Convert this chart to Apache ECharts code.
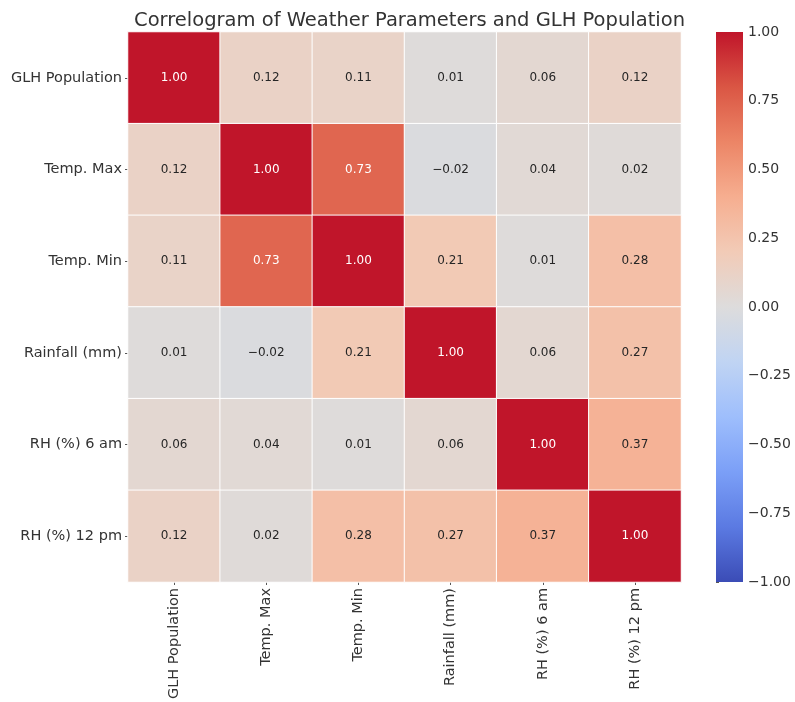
<!DOCTYPE html>
<html>
<head>
<meta charset="utf-8">
<script src="https://cdn.jsdelivr.net/npm/echarts@6/dist/echarts.min.js"></script>
<style>
  html, body { margin: 0; padding: 0; background: #fff; }
  #chart { width: 795px; height: 702px; }
</style>
</head>
<body>
<div id="chart"></div>
<script>
// Variables in the correlation matrix (row order = column order)
const variables = ['GLH Population', 'Temp. Max', 'Temp. Min', 'Rainfall (mm)', 'RH (%) 6 am', 'RH (%) 12 pm'];

// Pairwise correlation coefficients, one row per variable
const rowGLH      = [1.00, 0.12, 0.11, 0.01, 0.06, 0.12];
const rowTempMax  = [0.12, 1.00, 0.73, -0.02, 0.04, 0.02];
const rowTempMin  = [0.11, 0.73, 1.00, 0.21, 0.01, 0.28];
const rowRainfall = [0.01, -0.02, 0.21, 1.00, 0.06, 0.27];
const rowRH6      = [0.06, 0.04, 0.01, 0.06, 1.00, 0.37];
const rowRH12     = [0.12, 0.02, 0.28, 0.27, 0.37, 1.00];

// Colour bar tick values
const colorbarTicks = [-1.00, -0.75, -0.50, -0.25, 0.00, 0.25, 0.50, 0.75, 1.00];

const matrix = [rowGLH, rowTempMax, rowTempMin, rowRainfall, rowRH6, rowRH12];

// Diverging blue-grey-red ramp (coolwarm), from -1 to +1
const coolwarm = ['#3b4cb6', '#5b7ae2', '#7b9ff7', '#9ebefc', '#c0d4f3', '#dddcdc',
                  '#f2cbb7', '#f6ae90', '#ec8566', '#da5644', '#c0152a'];

const cells = [];
matrix.forEach((row, r) => row.forEach((v, c) => cells.push([c, r, v])));

const fmt = v => (v < 0 ? '\u2212' : '') + Math.abs(v).toFixed(2);
const FONT = 'DejaVu Sans';

const gridLeft = 128, gridTop = 32, gridW = 553, gridH = 550;
const barLeft = 716, barW = 27;

const chart = echarts.init(document.getElementById('chart'), null, { renderer: 'canvas' });
chart.setOption({
  backgroundColor: '#ffffff',
  animation: false,
  textStyle: { fontFamily: FONT },
  title: {
    text: 'Correlogram of Weather Parameters and GLH Population',
    left: gridLeft + gridW / 2,
    textAlign: 'center',
    top: 6,
    textStyle: { fontFamily: FONT, fontSize: 19.5, fontWeight: 'normal', color: '#333333' }
  },
  grid: [
    { left: gridLeft, top: gridTop, width: gridW, height: gridH },
    { left: barLeft, top: gridTop, width: barW, height: gridH, show: false }
  ],
  xAxis: [
    {
      type: 'category', data: variables, gridIndex: 0,
      axisLine: { show: false },
      axisTick: { show: true, alignWithLabel: true, length: 3, lineStyle: { color: '#555' } },
      axisLabel: { rotate: 90, fontFamily: FONT, fontSize: 14.5, color: '#333', margin: 6 },
      splitLine: { show: false }
    },
    {
      type: 'value', gridIndex: 1, show: false, min: 0, max: 1
    }
  ],
  yAxis: [
    {
      type: 'category', data: variables, gridIndex: 0, inverse: true,
      axisLine: { show: false },
      axisTick: { show: true, alignWithLabel: true, length: 3, lineStyle: { color: '#555' } },
      axisLabel: { fontFamily: FONT, fontSize: 14.5, color: '#333', margin: 6 },
      splitLine: { show: false }
    },
    {
      type: 'value', gridIndex: 1, position: 'right',
      min: -1, max: 1, interval: 0.25,
      axisLine: { show: false },
      axisTick: { show: true, length: 3, lineStyle: { color: '#555' } },
      axisLabel: { fontFamily: FONT, fontSize: 14, color: '#333', margin: 5,
                   formatter: v => fmt(v) },
      splitLine: { show: false }
    }
  ],
  visualMap: {
    type: 'continuous',
    show: false,
    min: -1, max: 1,
    seriesIndex: 0,
    inRange: { color: coolwarm }
  },
  series: [
    {
      type: 'heatmap',
      xAxisIndex: 0, yAxisIndex: 0,
      data: cells,
      itemStyle: { borderColor: '#ffffff', borderWidth: 1 },
      label: {
        show: true,
        fontFamily: FONT,
        fontSize: 12,
        formatter: p => fmt(p.value[2]),
        color: '#262626'
      },
      emphasis: { disabled: true }
    },
    {
      // colour bar: gradient area spanning the full -1..1 scale
      type: 'line', xAxisIndex: 1, yAxisIndex: 1,
      data: [],
      silent: true,
      markArea: {
        silent: true,
        itemStyle: {
          borderWidth: 0,
          borderRadius: 0,
          color: new echarts.graphic.LinearGradient(0, 1, 0, 0,
            coolwarm.map((c, i) => ({ offset: i / (coolwarm.length - 1), color: c })))
        },
        data: [[{ coord: [0, -1] }, { coord: [1, 1] }]]
      }
    }
  ]
});

// Light text on the strongly saturated cells
chart.setOption({
  series: [{
    data: cells.map(d => Math.abs(d[2]) >= 0.6
      ? { value: d, label: { color: '#ffffff' } }
      : { value: d })
  }]
});
</script>
</body>
</html>
